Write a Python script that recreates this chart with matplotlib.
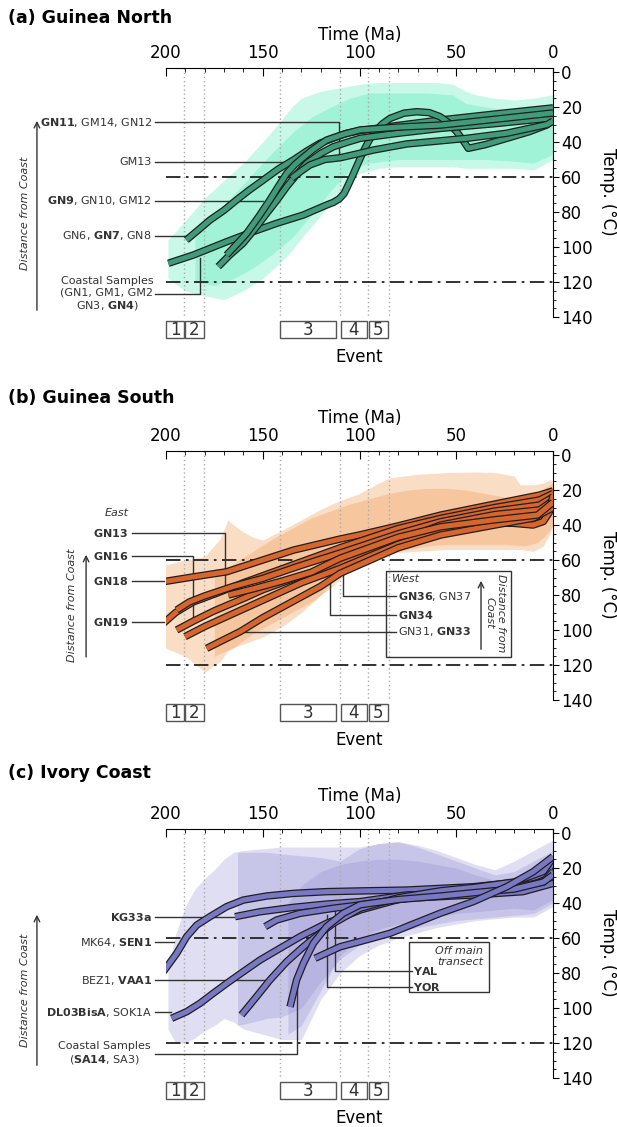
import matplotlib
matplotlib.use('Agg')
import matplotlib.pyplot as plt
import matplotlib.patheffects as pe
from matplotlib.patches import Rectangle

plt.rcParams['font.family'] = ['DejaVu Sans']
plt.rcParams['mathtext.fontset'] = 'dejavusans'

# ---- shared event info (Ma) ----
event_lines = [190.5, 180.5, 141, 110, 95.5, 85]
event_names = ['1', '2', '3', '4', '5']
event_start = [200, 190.2, 141.1, 109.6, 95.1]
event_end = [190.7, 180.4, 112.1, 96.1, 85.3]

# ---- (a) Guinea North ----
north_times = [
    [189.5, 183, 177.3, 170, 163.5, 157, 149.7, 142, 134.2, 127, 120.4, 113, 106.6, 100, 90, 80, 58, 30, 0],
    [198.8, 185.9, 168.7, 154.9, 142.9, 129, 117, 113.5, 110.5, 108, 105.8, 103.5, 101.5, 99.3, 97.2, 95,
     92.9, 88, 84.2, 77, 70.4, 64, 58.4, 54, 49.8, 46.5, 43.8, 35, 23.9, 12, 3.3, 0],
    [173, 167, 160.2, 154, 148, 142.5, 137.6, 132, 127.3, 120, 113.5, 106, 99.7, 80, 58, 30, 0],
    [168.7, 163.5, 158.3, 152, 146.3, 142, 137.6, 133.5, 130.7, 124, 117, 108, 99.7, 80, 58, 30, 0],
    [135, 130, 125.6, 118, 110, 100, 92.9, 75.6, 60, 44.6, 24, 3, 0],
]
north_temps = [
    [96, 90, 84.6, 79, 73.1, 67.5, 61.7, 55.5, 50.3, 45, 40.7, 37.5, 35, 33.5, 32, 30.5, 27.4, 24, 20.5],
    [109.3, 104.6, 97, 91.2, 86.5, 81.7, 76, 74.5, 72.5, 69.5, 64.5, 59, 54, 48.5, 43.6, 39,
     35, 29.5, 26.5, 23.5, 22.7, 23.2, 25.5, 29, 34.1, 39, 43.6, 41.5, 37.9, 34, 30.3, 27.4],
    [111.2, 104.5, 97.9, 89.5, 80.8, 73, 65.5, 58, 52.2, 46.5, 42.7, 40, 37.9, 35, 32.2, 29.5, 26.2],
    [104.6, 98.5, 92.2, 82.5, 73.1, 65.5, 57.9, 53, 50.3, 44.2, 38.9, 35.5, 33.1, 31.5, 30.3, 27, 23.4],
    [60.7, 56.5, 53.1, 50, 49, 46.5, 44.6, 41.1, 39.5, 37.9, 35, 30, 28],
]
north_env_t = [
    [199, 190, 180, 170, 160, 150, 140, 135, 130, 120, 110, 100, 90, 80, 70, 60, 52, 45, 40, 30, 20, 10, 0],
    [185, 175, 165, 155, 145, 135, 125, 115, 105, 95, 80, 65, 52, 45, 35, 20, 10, 0],
]
north_env_top = [
    [96, 85, 72, 62, 52, 40, 27, 20, 15, 11, 9, 7, 6, 6, 6, 6, 7, 11, 13, 15, 16, 15, 13],
    [95, 82, 70, 58, 46, 35, 26, 20, 15, 12, 12, 12, 13, 18, 20, 22, 21, 18],
]
north_env_bot = [
    [118, 125, 128, 130, 125, 118, 108, 102, 95, 82, 68, 58, 55, 54, 54, 54, 54, 55, 55, 55, 55, 56, 50],
    [120, 122, 118, 112, 104, 95, 82, 68, 56, 52, 50, 50, 50, 50, 50, 51, 52, 47],
]
north_labels = [r'$\mathbf{GN11}$, GM14, GN12', 'GM13', r'$\mathbf{GN9}$, GN10, GM12',
                r'GN6, $\mathbf{GN7}$, GN8']
north_label_T = [28.6, 51.4, 73.7, 93.5]
north_lead_x = [[110.8, 110.8], [131], [150], [189.5]]
north_lead_y = [[28.6, 49.5], [51.4], [73.7], [93.5]]

# ---- (b) Guinea South ----
south_times = [
    [201.4, 185, 168.6, 150, 134, 110, 100, 80, 58, 30, 7, 0],
    [201.4, 195, 186, 175, 160, 140, 120, 110, 80, 58, 30, 7, 0],
    [194.5, 188, 180, 165, 150, 130, 110, 80, 58, 30, 7, 0],
    [194.5, 186, 175, 160, 150, 130, 110, 80, 58, 30, 7, 0],
    [190.2, 180, 165, 150, 130, 110, 80, 58, 35, 20.7, 10.3, 5, 2, 0],
    [179, 170, 161.8, 150, 135, 120, 110, 80, 58, 30, 10, 0],
    [167.8, 155, 140, 125, 110, 80, 58, 30, 8, 0],
]
south_temps = [
    [72.4, 69.5, 66.7, 60, 54.3, 48, 45.7, 40.5, 34.3, 28, 22.9, 20.5],
    [96.2, 90, 84, 79.5, 73, 65, 57, 53, 42, 36.2, 30, 25.7, 22],
    [88.6, 84, 80.5, 75, 70.5, 63, 56, 45, 38.1, 32, 28.6, 24],
    [100, 95, 89, 82, 77, 69, 61.9, 49, 40, 34, 31.4, 26],
    [103.8, 98, 90.5, 83, 73, 64.8, 51, 42.9, 39, 39, 40, 38, 33, 23],
    [110.5, 105.5, 101, 93, 84, 75, 67.6, 53, 45.7, 40, 36, 30],
    [80, 76.5, 72, 67, 59, 47, 41, 37, 34.3, 27],
]
south_env_t = [
    [201, 190, 180, 172, 168, 165, 160, 155, 150, 140, 130, 120, 110, 100, 90, 84, 70, 55, 41, 30, 20, 17,
     10, 5, 1.5, 0],
    [175, 165, 155, 145, 135, 125, 115, 105, 95, 85, 75, 65, 55, 45, 35, 25, 15, 8, 3, 0],
]
south_env_top = [
    [63, 60, 58, 48, 37, 40, 44, 47, 48.6, 43, 37, 31, 26, 22, 16, 13, 11, 10, 9.7, 10, 12, 17, 17, 16, 14, 16],
    [70, 62, 55, 48, 42, 36, 32, 28, 25, 22, 20, 19, 19, 20, 22, 24, 25, 22, 18, 16],
]
south_env_bot = [
    [110, 115, 124, 118, 112, 110, 108, 106, 104, 98, 90, 80, 68, 62, 58, 56, 55, 54, 54, 54, 54, 54,
     55, 52, 45, 40],
    [115, 110, 102, 96, 90, 84, 76, 66, 60, 56, 54, 52, 51, 51, 51, 51, 52, 50, 45, 40],
]
south_labels = [r'$\mathbf{GN13}$', r'$\mathbf{GN16}$', r'$\mathbf{GN18}$', r'$\mathbf{GN19}$']
south_label_T = [44.6, 57.7, 72, 95.5]
south_lead_x = [[169.5, 169.5], [185.9, 185.9], [201], [201]]
south_lead_y = [[44.6, 76], [57.7, 96], [72], [95.5]]
west_labels = [r'$\mathbf{GN36}$, GN37', r'$\mathbf{GN34}$', r'GN31, $\mathbf{GN33}$']
west_label_T = [80.6, 91.4, 101.1]
west_lead_x = [[108.5, 108.5], [115.2, 115.2], [161.8]]
west_lead_y = [[52.6, 80.6], [64.6, 91.4], [101.1]]

# ---- (c) Ivory Coast ----
ivory_times = [
    [201.4, 194.5, 189.3, 184.1, 177.3, 168.7, 160, 148, 134.2, 117, 99.7, 75.6, 41.2, 15.5, 3.3, 0],
    [164.3, 151.4, 134.2, 117, 99.7, 75.6, 41.2, 15.5, 0],
    [148.8, 142.8, 130.7, 113.5, 99.7, 75.6, 41.2, 15.5, 0],
    [197.1, 189.3, 182.4, 175.6, 168.6, 160, 151.4, 141.1, 130.7, 117, 99.7, 80, 58, 40, 20, 5, 0],
    [161, 153.2, 146.3, 137.6, 129, 120.4, 113.5, 99.7, 80, 58, 40, 20, 5, 0],
    [135.9, 134.2, 132.5, 129, 123.8, 117, 108.4, 99.7, 80, 58, 40, 20, 5, 0],
    [123, 110, 99.7, 84.2, 58.4, 41.2, 23.9, 10.2, 0],
]
ivory_temps = [
    [79.3, 68.8, 59.2, 52.6, 47.8, 42.1, 38.3, 36, 34.5, 33.5, 33.1, 32.6, 30.7, 27.8, 23, 16.4],
    [47.8, 45, 42.5, 40.6, 39.2, 35.4, 34.3, 31.6, 25],
    [53.5, 49.7, 45.9, 43, 41.1, 37.3, 35.4, 33.5, 28.8],
    [105.9, 102.1, 97.3, 91.6, 85.9, 79.2, 72.6, 65.9, 59.2, 51.6, 44, 38, 35, 33, 31, 28, 22],
    [104, 93.5, 84, 73.5, 65, 57.3, 51.6, 43, 37, 33, 31, 28, 22, 14],
    [99.3, 91.6, 84, 74.5, 63, 53.5, 45.9, 41, 38, 36, 34, 32, 28, 24],
    [71.6, 65, 62, 57.3, 45.9, 39.2, 30.7, 22.1, 13.5],
]
ivory_env_t = [
    [199, 195, 190, 185, 180, 175, 170, 165, 160, 150, 140, 130, 120, 110, 100, 90, 80, 70, 60, 50, 40, 30,
     20, 10, 0],
    [163, 155, 148, 140, 130, 120, 110, 100, 90, 80, 70, 60, 50, 40, 30, 20, 10, 0],
    [137, 130, 120, 110, 100, 90, 80, 70, 60, 50, 40, 30, 20, 10, 0],
]
ivory_env_top = [
    [78, 58, 42, 32, 26, 21, 15, 11, 10, 9, 8, 8, 8, 8, 8, 6, 5, 7, 10, 14, 18, 21, 16, 10, 4],
    [11, 11, 11, 12, 13, 14, 16, 9, 6, 5, 8, 12, 16, 20, 24, 22, 16, 10],
    [40, 30, 22, 18, 16, 15, 15, 16, 18, 20, 24, 27, 25, 20, 14],
]
ivory_env_bot = [
    [112, 120, 120, 117, 113, 110, 106, 108, 112, 115, 118, 118, 95, 80, 70, 64, 60, 57, 54, 52, 50, 49,
     48, 48, 42],
    [110, 108, 106, 105, 100, 85, 72, 64, 60, 57, 54, 52, 50, 49, 48, 47, 46, 40],
    [115, 110, 90, 70, 60, 55, 52, 50, 48, 46, 45, 44, 43, 44, 38],
]
ivory_labels = [r'$\mathbf{KG33a}$', r'MK64, $\mathbf{SEN1}$', r'BEZ1, $\mathbf{VAA1}$',
                r'$\mathbf{DL03BisA}$, SOK1A']
ivory_label_T = [48, 62.3, 84, 102.3]
ivory_lead_x = [[165], [196], [146.3], [197.5]]
ivory_lead_y = [[48], [62.3], [84], [102.3]]
off_labels = [r'$\mathbf{YAL}$', r'$\mathbf{YOR}$']
off_label_T = [78.9, 88]
off_lead_x = [[112.7, 112.7], [116.6, 116.6]]
off_lead_y = [[39.3, 78.9], [47, 88]]

TXT = '#333333'
FS = 8
LW_IN, LW_OUT = 3.6, 5.4

fig = plt.figure(figsize=(6.17, 11.27), dpi=100)
left, width, height = 166 / 617, 387 / 617, 249 / 1127
bottoms = [1 - 317 / 1127, 1 - 700 / 1127, 1 - 1078 / 1127]
titles = ['(a) Guinea North', '(b) Guinea South', '(c) Ivory Coast']
title_y = [18, 398, 773]


def setup(ax):
    ax.set_xlim(200, 0)
    ax.set_ylim(140, -2.3)
    ax.spines['left'].set_visible(False)
    ax.spines['bottom'].set_visible(False)
    ax.xaxis.tick_top()
    ax.yaxis.tick_right()
    ax.set_xticks([200, 150, 100, 50, 0])
    ax.set_xticks(range(0, 201, 10), minor=True)
    ax.set_yticks(range(0, 141, 20))
    ax.set_yticks(range(0, 141, 5), minor=True)
    ax.tick_params(axis='x', which='both', direction='in', labelsize=12, pad=4)
    ax.tick_params(axis='x', which='major', length=6)
    ax.tick_params(axis='x', which='minor', length=3)
    ax.tick_params(axis='y', which='both', direction='out', labelsize=12, pad=2)
    ax.tick_params(axis='y', which='major', length=4)
    ax.tick_params(axis='y', which='minor', length=2.5)
    ax.text(100, -21, 'Time (Ma)', ha='center', va='center', fontsize=12)
    ax.text(-28.4, 68.6, 'Temp. (°C)', ha='center', va='center', fontsize=12, rotation=-90)
    for T in (60, 120):
        ax.plot([200, 0], [T, T], color='#222222', lw=1.3, ls=(0, (8, 3, 1.5, 3)), zorder=3)
    for t in event_lines:
        ax.plot([t, t], [-2.3, 140], color='#aaaaaa', lw=1, ls=(0, (1, 2)), zorder=2)
    for s, e, n in zip(event_start, event_end, event_names):
        ax.add_patch(Rectangle((e, 142.5), s - e, 9.5, fill=False, edgecolor='#555555', lw=1,
                               clip_on=False))
        ax.text((s + e) / 2, 147.5, n, ha='center', va='center', fontsize=12, color='#333333')
    ax.text(100, 163, 'Event', ha='center', va='center', fontsize=12)


def tubes(ax, times, temps, col):
    for t, T in zip(times, temps):
        ax.plot(t, T, color=col, lw=LW_IN, solid_capstyle='butt', solid_joinstyle='round', zorder=6,
                path_effects=[pe.Stroke(linewidth=LW_OUT, foreground='#1e1e1e', capstyle='butt'),
                              pe.Normal()])


def envelopes(ax, ts, tops, bots, col, alpha):
    for t, a, b in zip(ts, tops, bots):
        ax.fill_between(t, a, b, color=col, alpha=alpha, lw=0, zorder=1)


def leaders(ax, x0, labels, lab_T, lx, ly, tx, ha='right'):
    for lab, T, xs, ys in zip(labels, lab_T, lx, ly):
        ax.text(tx, T, lab, ha=ha, va='center', fontsize=FS, color=TXT)
        ax.plot([x0] + xs, [T] + ys, color='#333333', lw=1, clip_on=False, zorder=5)


def dist_arrow(ax, x, t0, t1, tx, tT, rot=90, text='Distance from Coast'):
    ax.annotate('', xy=(x, t1), xytext=(x, t0), annotation_clip=False,
                arrowprops=dict(arrowstyle='->', color='#333333', lw=1))
    ax.text(tx, tT, text, rotation=rot, ha='center', va='center', fontsize=FS,
            style='italic', color=TXT)


axes = []
for i in range(3):
    ax = fig.add_axes([left, bottoms[i], width, height])
    setup(ax)
    fig.text(8 / 617, 1 - title_y[i] / 1127, titles[i], fontsize=12.5, fontweight='bold', va='center')
    axes.append(ax)

# (a)
ax = axes[0]
envelopes(ax, north_env_t, north_env_top, north_env_bot, '#52eab8', 0.32)
tubes(ax, north_times, north_temps, '#3e9c7b')
leaders(ax, 205.7, north_labels, north_label_T, north_lead_x, north_lead_y, 207.2)
ax.text(230.5, 126.9, 'Coastal Samples\n(GN1, GM1, GM2\nGN3, $\\mathbf{GN4}$)', ha='center',
        va='center', fontsize=FS, color=TXT, multialignment='center', linespacing=1.2)
ax.plot([205.7, 182.5, 182.5], [126.9, 126.9, 106], color='#333333', lw=1, clip_on=False, zorder=5)
dist_arrow(ax, 266.7, 137.7, 26.3, 272.9, 80.6)

# (b)
ax = axes[1]
envelopes(ax, south_env_t, south_env_top, south_env_bot, '#f09a50', 0.33)
tubes(ax, south_times, south_temps, '#d8662c')
leaders(ax, 217.6, south_labels, south_label_T, south_lead_x, south_lead_y, 219.6)
ax.text(225.3, 33.1, 'East', ha='center', va='center', fontsize=FS, style='italic', color=TXT)
dist_arrow(ax, 241.3, 117, 55.4, 248.6, 85.7)
ax.add_patch(Rectangle((21.7, 66.3), 64.6, 49.1, fill=False, edgecolor='#333333', lw=1,
                       zorder=5, clip_on=False))
ax.text(83.2, 70.9, 'West', ha='left', va='center', fontsize=FS, style='italic', color=TXT)
for lab, T, xs, ys in zip(west_labels, west_label_T, west_lead_x, west_lead_y):
    ax.text(80.1, T, lab, ha='left', va='center', fontsize=FS, color=TXT, zorder=7)
    ax.plot(xs + [81.1], ys + [T], color='#333333', lw=1, zorder=5)
dist_arrow(ax, 37.2, 112.6, 70.3, 30, 90.3, rot=-90, text='Distance from\nCoast')

# (c)
ax = axes[2]
envelopes(ax, ivory_env_t, ivory_env_top, ivory_env_bot, '#8a87d0', 0.27)
tubes(ax, ivory_times, ivory_temps, '#7a78c4')
leaders(ax, 205.7, ivory_labels, ivory_label_T, ivory_lead_x, ivory_lead_y, 207.2)
ax.text(232, 126, 'Coastal Samples\n($\\mathbf{SA14}$, SA3)', ha='center', va='center', fontsize=FS,
        color=TXT, multialignment='center', linespacing=1.2)
ax.plot([205.7, 132.3, 132.3], [126.3, 126.3, 85.7], color='#333333', lw=1, clip_on=False, zorder=5)
dist_arrow(ax, 266.7, 134.3, 45.1, 272.9, 89.7)
ax.add_patch(Rectangle((33.1, 62.3), 41.3, 28.5, facecolor='none', edgecolor='#333333', lw=1, zorder=5))
ax.text(36.2, 70.6, 'Off main\ntransect', ha='right', va='center', fontsize=FS, style='italic',
        color=TXT, multialignment='right')
for lab, T, xs, ys in zip(off_labels, off_label_T, off_lead_x, off_lead_y):
    ax.text(72.4, T, lab, ha='left', va='center', fontsize=FS, color=TXT, zorder=7)
    ax.plot(xs + [72.8], ys + [T], color='#333333', lw=1, zorder=5)

fig.savefig('out.png', dpi=100)
